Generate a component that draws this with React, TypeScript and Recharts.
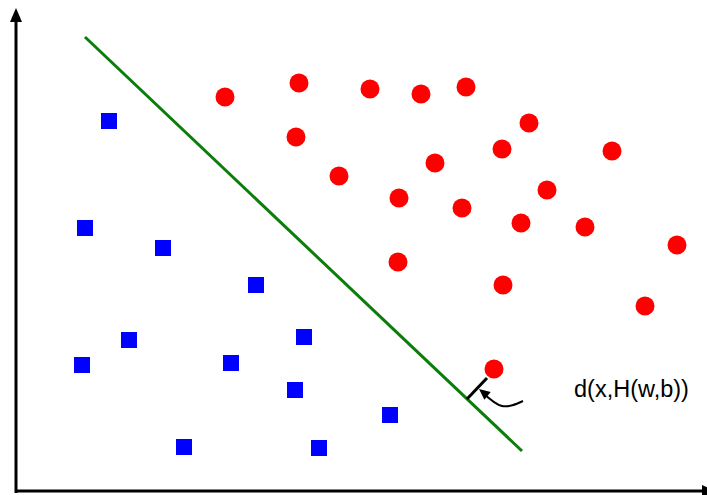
import React from 'react';
import { ComposedChart, Scatter, Line, XAxis, YAxis, ReferenceLine } from 'recharts';

// plot coordinates: x to the right, y upwards (0..707 x 0..495)
const redPoints = [
  { x: 225, y: 398 }, { x: 299, y: 412 }, { x: 370, y: 406 }, { x: 421, y: 401 },
  { x: 466, y: 408 }, { x: 529, y: 372 }, { x: 296, y: 358 }, { x: 502, y: 346 },
  { x: 612, y: 344 }, { x: 435, y: 332 }, { x: 339, y: 319 }, { x: 547, y: 305 },
  { x: 399, y: 297 }, { x: 462, y: 287 }, { x: 521, y: 272 }, { x: 585, y: 268 },
  { x: 677, y: 250 }, { x: 398, y: 233 }, { x: 503, y: 210 }, { x: 645, y: 189 },
  { x: 494, y: 126 },
];

const bluePoints = [
  { x: 109, y: 374 }, { x: 85, y: 267 }, { x: 163, y: 247 }, { x: 256, y: 210 },
  { x: 129, y: 155 }, { x: 304, y: 158 }, { x: 82, y: 130 }, { x: 231, y: 132 },
  { x: 295, y: 105 }, { x: 390, y: 80 }, { x: 184, y: 48 }, { x: 319, y: 47 },
];

const boundary = [{ x: 85, y: 458 }, { x: 522, y: 44 }];
const distance = [{ x: 467, y: 96 }, { x: 487, y: 117 }];
const curve = [{ x: 523, y: 94 }, { x: 502, y: 89 }, { x: 482, y: 103 }];
const arrowHeads = [
  { x: 479, y: 106, angle: -141, len: 11, half: 5 },
  { x: 16, y: 487, angle: -90, len: 14, half: 6 },
  { x: 716, y: 4, angle: 0, len: 14, half: 6 },
];
const yAxisLine = [{ x: 16, y: 2 }, { x: 16, y: 476 }];
const xAxisLine = [{ x: 15, y: 4 }, { x: 707, y: 4 }];
const labelText = 'd(x,H(w,b))';
const labelPos = [{ x: 574, y: 98 }];

const Circle = (p: any) => <circle cx={p.cx} cy={p.cy} r={9.5} fill="#ff0000" />;
const Square = (p: any) => <rect x={p.cx - 8} y={p.cy - 8} width={16} height={16} fill="#0000ff" />;
const Head = (p: any) => {
  const { len, half, angle } = p.payload;
  return (
    <polygon
      points={`0,0 ${-len},${-half} ${-len},${half}`}
      fill="#000"
      transform={`translate(${p.cx},${p.cy}) rotate(${angle})`}
    />
  );
};
const Label = (p: any) => (
  <text x={p.cx} y={p.cy} fontSize={23.5} fontFamily="Liberation Sans, Arial, sans-serif" fill="#000">
    {labelText}
  </text>
);

export default function App() {
  return (
    <div style={{ position: 'absolute', left: 0, top: 0, width: 707, height: 495, background: '#fff' }}>
      <ComposedChart width={707} height={495} margin={{ top: 0, right: 0, bottom: 0, left: 0 }}>
        <XAxis type="number" dataKey="x" domain={[0, 707]} hide allowDataOverflow />
        <YAxis type="number" dataKey="y" domain={[0, 495]} hide allowDataOverflow />
        <ReferenceLine segment={yAxisLine} stroke="#000" strokeWidth={3} ifOverflow="visible" />
        <ReferenceLine segment={xAxisLine} stroke="#000" strokeWidth={3} ifOverflow="visible" />
        <ReferenceLine segment={boundary} stroke="#0a7d0a" strokeWidth={3} ifOverflow="visible" />
        <ReferenceLine segment={distance} stroke="#000" strokeWidth={3} ifOverflow="visible" />
        <Line data={curve} dataKey="y" type="natural" stroke="#000" strokeWidth={2} dot={false} isAnimationActive={false} />
        <Scatter data={bluePoints} shape={Square} isAnimationActive={false} />
        <Scatter data={redPoints} shape={Circle} isAnimationActive={false} />
        <Scatter data={arrowHeads} shape={Head} isAnimationActive={false} />
        <Scatter data={labelPos} shape={Label} isAnimationActive={false} />
      </ComposedChart>
    </div>
  );
}
